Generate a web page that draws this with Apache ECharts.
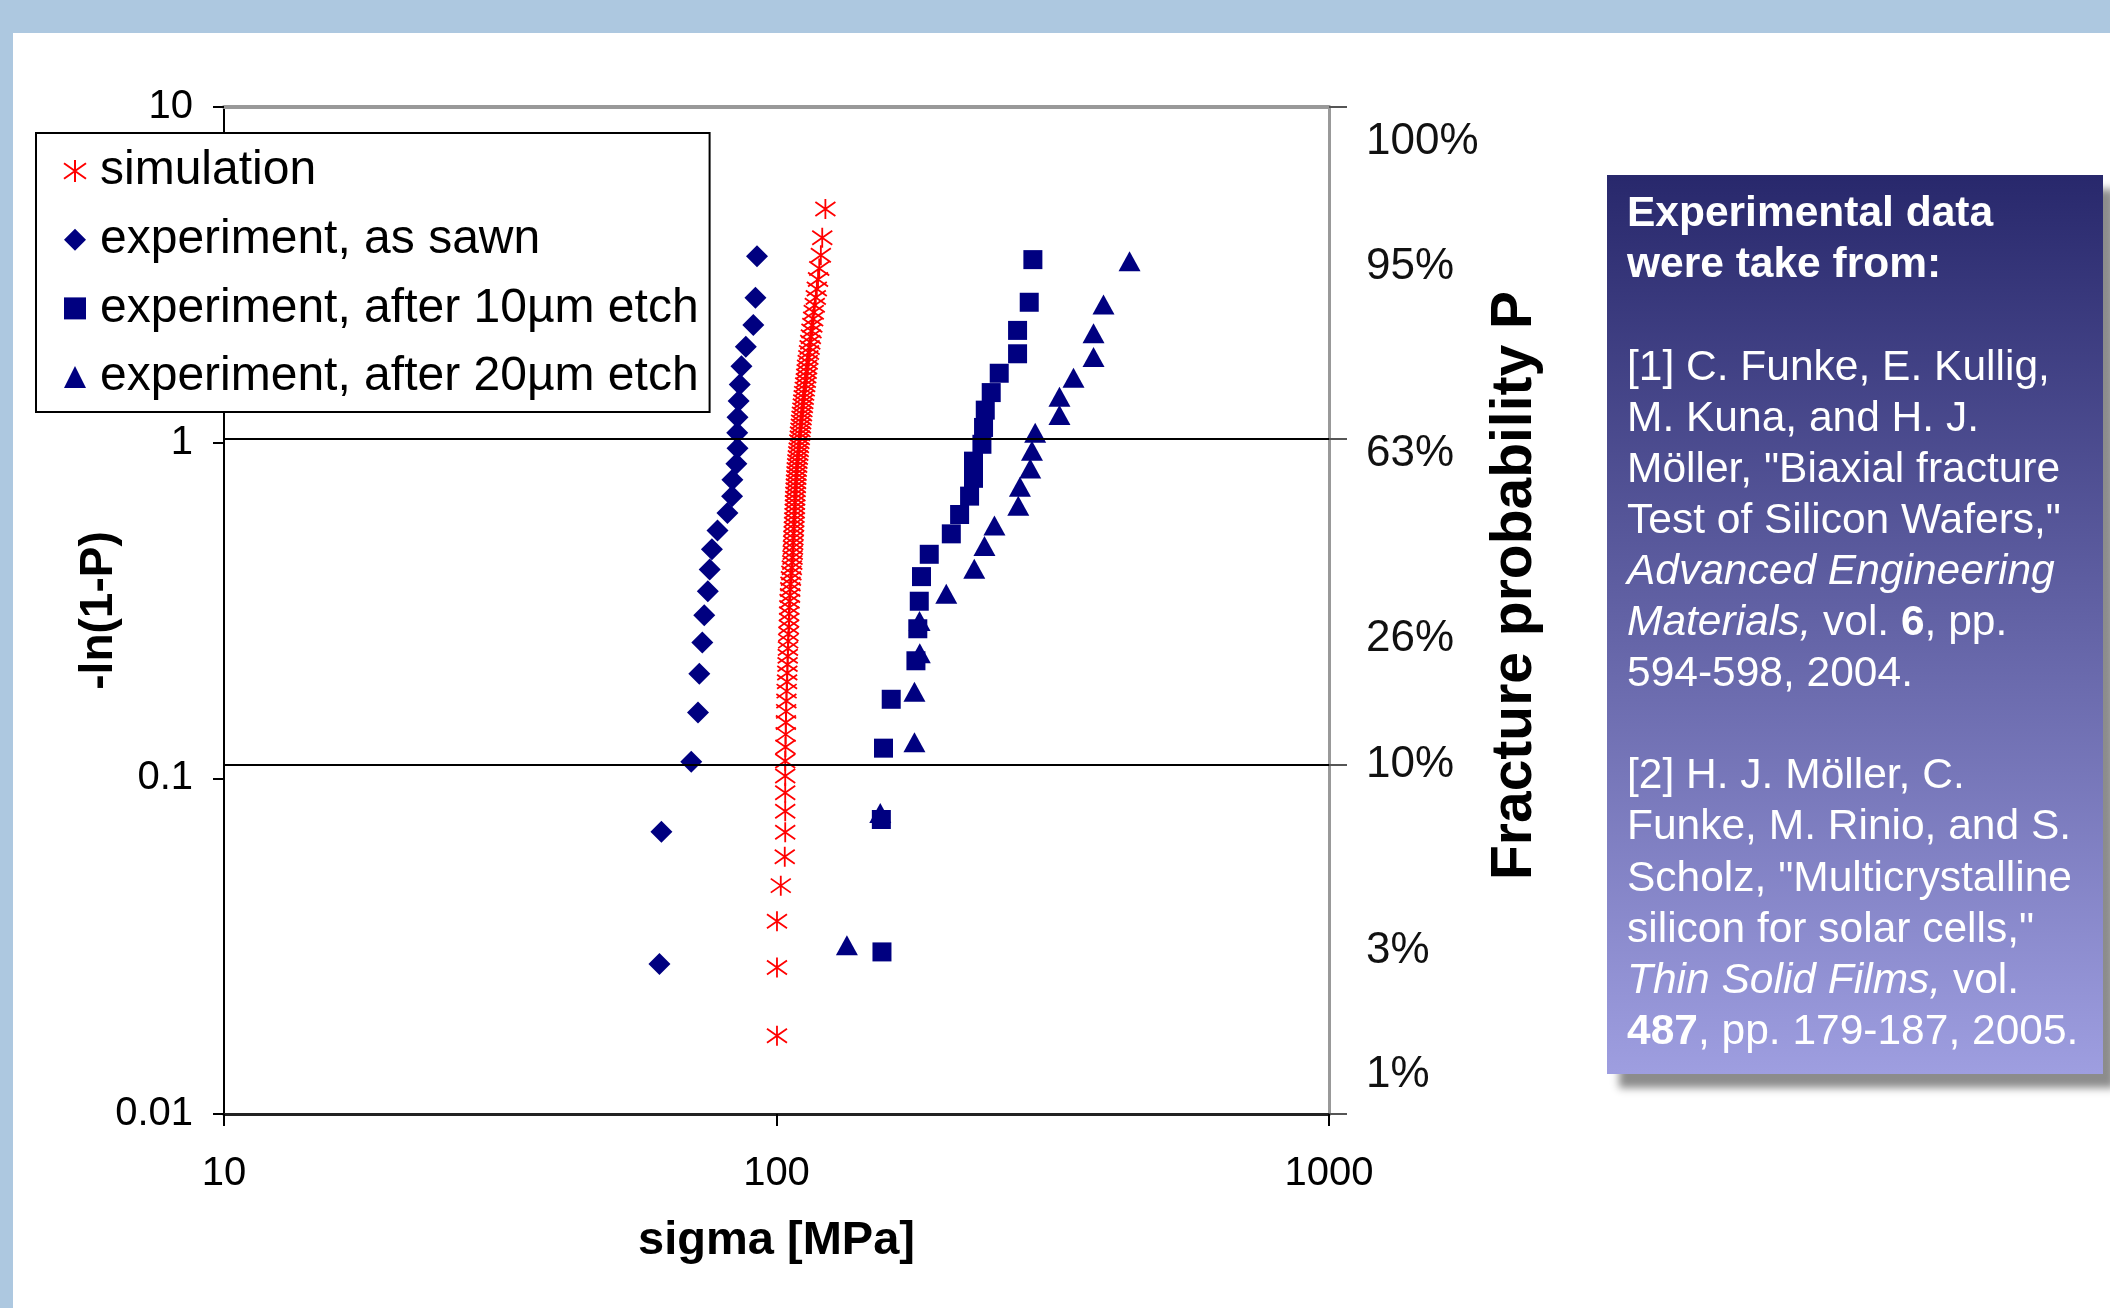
<!DOCTYPE html>
<html><head><meta charset="utf-8">
<script src="https://cdn.jsdelivr.net/npm/echarts@6/dist/echarts.min.js"></script>
<style>html,body{margin:0;padding:0;background:#fff}#c{width:2110px;height:1308px}</style>
</head><body><div id="c"></div>
<script>
// ---- data ----
const seriesNames = ['simulation', 'experiment, as sawn', 'experiment, after 10µm etch', 'experiment, after 20µm etch'];

const simSigma = [100.2,100.2,100.2,101.8,103.5,103.7,103.7,103.7,103.7,103.7,
  103.8,103.9,104.0,104.1,104.2,104.3,104.5,104.6,104.7,104.8,
  104.9,105.0,105.1,105.3,105.4,105.4,105.5,105.6,105.8,105.9,
  106.0,106.2,106.4,106.6,106.8,106.9,107.0,107.1,107.2,107.3,
  107.4,107.5,107.6,107.7,107.8,107.9,108.0,108.0,108.1,108.2,
  108.3,108.4,108.5,108.6,108.7,108.8,109.0,109.1,109.3,109.5,
  109.7,109.8,110.0,110.2,110.3,110.5,110.7,110.8,111.0,111.2,
  111.4,111.6,111.8,112.0,112.2,112.5,112.7,113.0,113.2,113.4,
  113.6,113.9,114.2,114.5,114.8,115.1,115.4,115.7,116.1,116.5,
  116.8,117.3,117.8,118.3,118.9,119.5,120.3,121.0,122.6];
const simY = [0.0171,0.0273,0.0375,0.0479,0.0584,0.0691,0.0798,0.0906,0.1016,0.1127,
  0.1239,0.1352,0.1467,0.1583,0.1700,0.1819,0.1939,0.2061,0.2184,0.2309,
  0.2435,0.2563,0.2693,0.2824,0.2957,0.3092,0.3228,0.3367,0.3507,0.3650,
  0.3794,0.3941,0.4090,0.4241,0.4394,0.4550,0.4708,0.4869,0.5032,0.5198,
  0.5367,0.5539,0.5714,0.5892,0.6073,0.6257,0.6445,0.6637,0.6832,0.7032,
  0.7235,0.7442,0.7654,0.7871,0.8092,0.8318,0.8550,0.8787,0.9029,0.9278,
  0.9533,0.9795,1.0064,1.0340,1.0624,1.0917,1.1218,1.1528,1.1849,1.2180,
  1.2523,1.2877,1.3245,1.3627,1.4024,1.4437,1.4868,1.5318,1.5790,1.6285,
  1.6806,1.7356,1.7938,1.8555,1.9213,1.9918,2.0675,2.1496,2.2389,2.3370,
  2.4458,2.5679,2.7071,2.8687,3.0616,3.3008,3.6159,4.0785,4.9659];

const sawnSigma = [61.4,61.9,70.1,72.1,72.5,73.4,74.0,75.1,75.7,76.4,78.2,81.5,83.1,83.2,84.6,85.0,84.9,85.0,85.4,85.8,86.4,88.0,90.8,91.6,92.2];
const sawnY = [0.0280,0.0693,0.112,0.157,0.205,0.254,0.306,0.361,0.419,0.481,0.547,0.617,0.693,0.775,0.865,0.963,1.07,1.19,1.33,1.49,1.69,1.93,2.24,2.70,3.59];

const etch10Sigma = [155.2,154.8,156.2,161.3,178.8,180.2,181.3,183.0,189.0,207.2,214.5,223.6,227.3,227.3,235.4,237.0,238.7,244.7,253.0,273.1,273.1,286.7,291.1];
const etch10Y = [0.0304,0.0754,0.123,0.172,0.224,0.279,0.337,0.399,0.465,0.535,0.611,0.693,0.783,0.881,0.989,1.11,1.25,1.41,1.61,1.84,2.16,2.62,3.51];

const etch20Sigma = [134.1,154.1,177.7,177.7,181.7,181.5,202.9,228.0,237.9,248.0,273.9,275.8,287.9,290.0,293.9,325.2,325.2,344.8,374.8,374.8,390.7,435.5];
const etch20Y = [0.0318,0.0789,0.128,0.181,0.236,0.294,0.355,0.421,0.492,0.567,0.649,0.739,0.837,0.946,1.07,1.21,1.37,1.56,1.80,2.12,2.58,3.47];

const xTickLabels = ['10', '100', '1000'];
const yTickLabels = ['0.01', '0.1', '1', '10'];
const pctLabels = ['100%', '95%', '63%', '26%', '10%', '3%', '1%'];
const pctLabelAt = [7.85, 3.33, 0.929, 0.260, 0.110, 0.0307, 0.0131];
const refLevels = [1.026, 0.110];   // horizontal reference lines (63% and 10%)

// ---- helpers ----
const zip = (a, b) => a.map((v, i) => [v, b[i]]);
const NARROW = "'Liberation Sans Narrow','Liberation Sans',Arial,sans-serif";
const SANS = "'Liberation Sans',Arial,sans-serif";
const NAVY = '#000080';
const STAR = 'path://M10,0L10,20M0,3L20,17M0,17L20,3';
const pctVals = pctLabelAt.map(Math.log10);
const rightTicks = [Math.log10(10), Math.log10(refLevels[0]), Math.log10(refLevels[1]), Math.log10(0.01)];

const refText = [
  '{b|Experimental data}',
  '{b|were take from:}',
  '{n| }',
  '[1] C. Funke, E. Kullig,',
  'M. Kuna, and H. J.',
  'Möller, "Biaxial fracture',
  'Test of Silicon Wafers,"',
  '{i|Advanced Engineering}',
  '{i|Materials,} vol. {b|6}, pp.',
  '594-598, 2004.',
  '{n| }',
  '[2] H. J. Möller, C.',
  'Funke, M. Rinio, and S.',
  'Scholz, "Multicrystalline',
  'silicon for solar cells,"',
  '{i|Thin Solid Films,} vol.',
  '{b|487}, pp. 179-187, 2005.'
].join('\n');

const chart = echarts.init(document.getElementById('c'), null, {renderer: 'canvas'});
const option = {
  animation: false,
  backgroundColor: '#fff',
  grid: {left: 224, top: 107, width: 1105, height: 1007, containLabel: false},
  xAxis: [{
    type: 'log', logBase: 10, min: 10, max: 1000, position: 'bottom',
    axisLine: {show: true, onZero: false, lineStyle: {color: '#222', width: 3}},
    axisTick: {show: true, inside: false, length: 12, lineStyle: {color: '#000', width: 2}},
    minorTick: {show: false}, splitLine: {show: false},
    axisLabel: {margin: 40, fontFamily: NARROW, fontSize: 40, color: '#000',
      formatter: v => xTickLabels[Math.round(Math.log10(v)) - 1]},
    name: 'sigma [MPa]', nameLocation: 'middle', nameGap: 104, nameMoveOverlap: false,
    nameTextStyle: {fontFamily: SANS, fontWeight: 'bold', fontSize: 47, color: '#000'}
  }, {
    type: 'log', logBase: 10, min: 10, max: 1000, position: 'top',
    axisLine: {show: true, onZero: false, lineStyle: {color: '#999', width: 4}},
    axisTick: {show: false}, axisLabel: {show: false}, splitLine: {show: false}
  }],
  yAxis: [{
    type: 'log', logBase: 10, min: 0.01, max: 10, position: 'left',
    axisLine: {show: true, onZero: false, lineStyle: {color: '#000', width: 2}},
    axisTick: {show: true, length: 11, lineStyle: {color: '#000', width: 2}},
    splitLine: {show: false}, minorTick: {show: false},
    axisLabel: {margin: 31, fontFamily: NARROW, fontSize: 40, color: '#000',
      formatter: v => yTickLabels[Math.round(Math.log10(v)) + 2]},
    name: '-ln(1-P)', nameLocation: 'middle', nameRotate: 90, nameGap: 102, nameMoveOverlap: false,
    nameTextStyle: {fontFamily: SANS, fontWeight: 'bold', fontSize: 46, color: '#000'}
  }, {
    type: 'value', min: -2, max: 1, position: 'right',
    axisLine: {show: true, onZero: false, lineStyle: {color: '#999', width: 3}},
    axisTick: {show: true, length: 18, customValues: rightTicks, lineStyle: {color: '#555', width: 2}},
    splitLine: {show: false},
    axisLabel: {show: true, margin: 37, customValues: pctVals, fontFamily: SANS, fontSize: 44, color: '#111',
      formatter: v => {
        let best = 0;
        pctVals.forEach((c, k) => { if (Math.abs(c - v) < Math.abs(pctVals[best] - v)) best = k; });
        return pctLabels[best];
      }},
    name: 'Fracture probability P', nameLocation: 'middle', nameRotate: 90, nameGap: 158, nameMoveOverlap: false,
    nameTextStyle: {fontFamily: SANS, fontWeight: 'bold', fontSize: 57, color: '#000', padding: [0, 0, 0, 50]}
  }],
  legend: {
    data: seriesNames, orient: 'vertical', left: 36, top: 133,
    padding: [13, 11, 10, 27], itemGap: 18.7, itemWidth: 22, itemHeight: 22,
    symbolKeepAspect: true,
    backgroundColor: '#fff', borderColor: '#000', borderWidth: 2, borderRadius: 0,
    textStyle: {fontFamily: SANS, fontSize: 48, color: '#000', lineHeight: 50, padding: [0, 0, 0, 9]},
    selectedMode: false, z: 10
  },
  series: [{
    name: seriesNames[0], type: 'scatter', data: zip(simSigma, simY),
    symbol: STAR, symbolSize: 20, symbolKeepAspect: true,
    itemStyle: {color: 'transparent', borderColor: '#ff0000', borderWidth: 1.8, opacity: 1},
    markLine: {
      silent: true, symbol: ['none', 'none'], label: {show: false}, animation: false,
      lineStyle: {color: '#000', width: 2, type: 'solid'},
      emphasis: {disabled: true},
      data: refLevels.map(v => ({yAxis: v}))
    }
  }, {
    name: seriesNames[3], type: 'scatter', data: zip(etch20Sigma, etch20Y),
    symbol: 'triangle', symbolSize: [22, 20], symbolKeepAspect: true, itemStyle: {color: NAVY, opacity: 1}
  }, {
    name: seriesNames[2], type: 'scatter', data: zip(etch10Sigma, etch10Y),
    symbol: 'rect', symbolSize: 19, symbolKeepAspect: true, itemStyle: {color: NAVY, opacity: 1}
  }, {
    name: seriesNames[1], type: 'scatter', data: zip(sawnSigma, sawnY),
    symbol: 'diamond', symbolSize: 22, symbolKeepAspect: true, itemStyle: {color: NAVY, opacity: 1}
  }],
  graphic: [
    {type: 'rect', silent: true, shape: {x: 0, y: 0, width: 2110, height: 33}, style: {fill: '#adc8e0'}},
    {type: 'rect', silent: true, shape: {x: 0, y: 0, width: 13, height: 1308}, style: {fill: '#adc8e0'}},
    {type: 'rect', silent: true, shape: {x: 1607, y: 175, width: 496, height: 899},
      style: {
        fill: new echarts.graphic.LinearGradient(0, 0, 0, 1, [{offset: 0, color: '#28286c'}, {offset: 1, color: '#9e9ee0'}]),
        shadowBlur: 8, shadowOffsetX: 12, shadowOffsetY: 14, shadowColor: 'rgba(0,0,0,0.45)'
      }},
    {type: 'text', silent: true, x: 1627, y: 189,
      style: {
        text: refText, fill: '#fff', fontFamily: SANS, fontSize: 42.5, lineHeight: 51.1,
        verticalAlign: 'top', align: 'left',
        rich: {
          n: {fill: '#fff', fontFamily: SANS, fontSize: 42.5, lineHeight: 51.1},
          b: {fill: '#fff', fontFamily: SANS, fontSize: 42.5, lineHeight: 51.1, fontWeight: 'bold'},
          i: {fill: '#fff', fontFamily: SANS, fontSize: 42.5, lineHeight: 51.1, fontStyle: 'italic'}
        }
      }}
  ]
};
chart.setOption(option);
</script>
</body></html>
